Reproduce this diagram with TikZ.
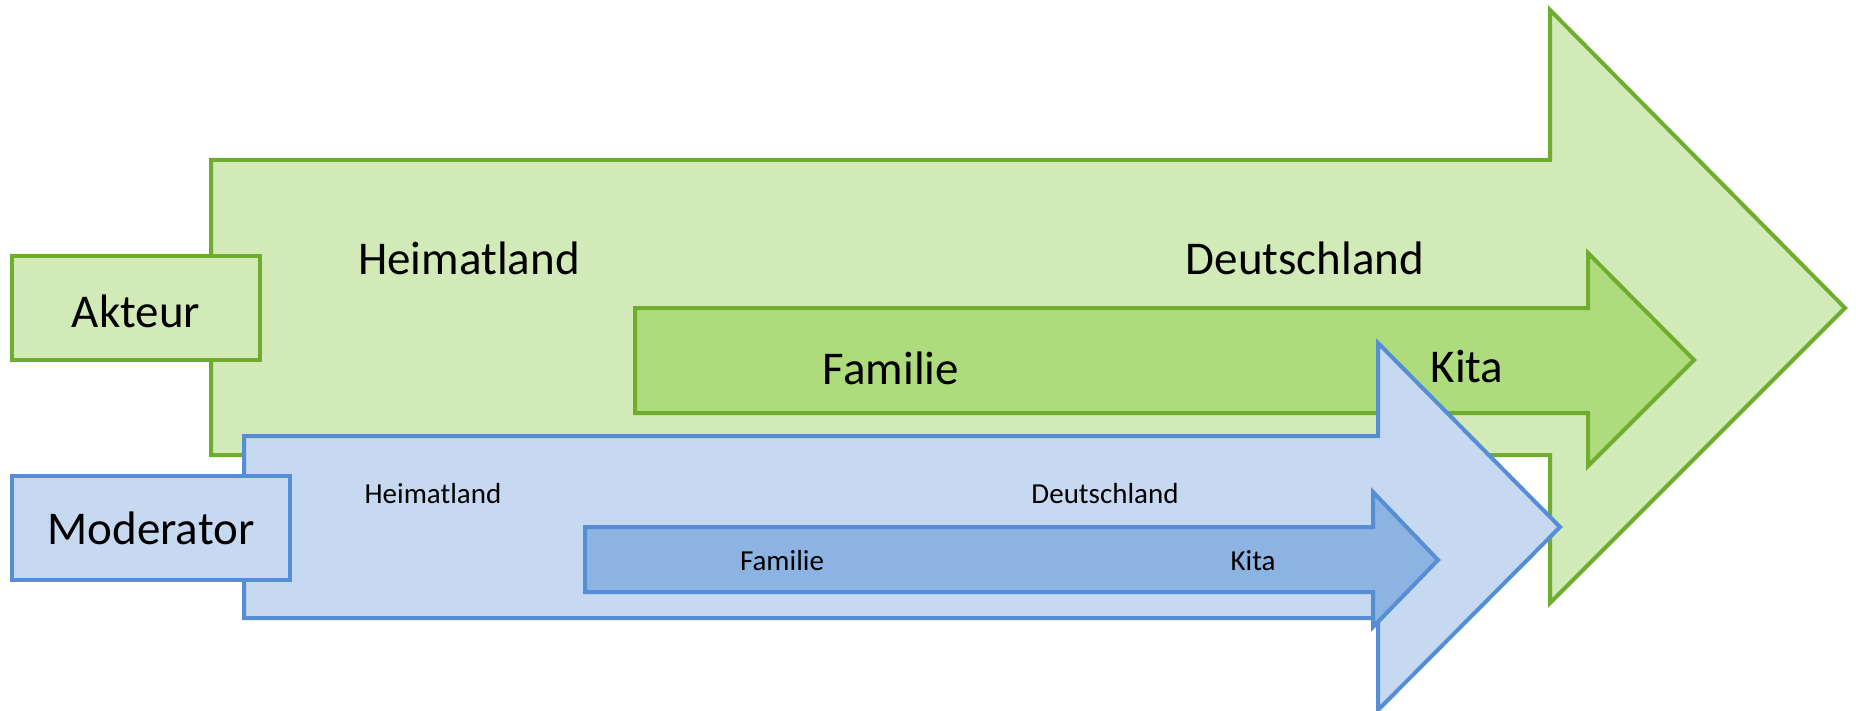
\documentclass[tikz,border=0pt]{standalone}
\usepackage{fontspec}
\setmainfont{Carlito}

\definecolor{paleleaf}{HTML}{D2EAB8}
\definecolor{leaf}{HTML}{AEDC7C}
\definecolor{leafline}{HTML}{6FAD2F}
\definecolor{palesky}{HTML}{C6D9F0}
\definecolor{sky}{HTML}{8DB3E2}
\definecolor{skyline}{HTML}{558ED5}

\tikzset{
  greenpale/.style={draw=leafline, line width=2pt, fill=paleleaf, line join=miter},
  greenfull/.style={draw=leafline, line width=2pt, fill=leaf, line join=miter},
  bluepale/.style={draw=skyline, line width=2pt, fill=palesky, line join=miter},
  bluefull/.style={draw=skyline, line width=2pt, fill=sky, line join=miter},
  bigtext/.style={font=\fontsize{23.5}{28}\selectfont, inner sep=0pt},
  smalltext/.style={font=\fontsize{14.5}{17}\selectfont, inner sep=0pt}
}

\begin{document}
\begin{tikzpicture}[x=0.5pt, y=-0.5pt]
  \useasboundingbox (0,0) rectangle (1856,711);

  % Akteur
  \draw[greenpale] (211,160) -- (1550,160) -- (1550,10) -- (1845,308) -- (1550,603) -- (1550,455) -- (211,455) -- cycle;
  \draw[greenpale] (12,256) rectangle (260,360);
  \node[bigtext] (akteur) at (136,311) {Akteur};
  \node[bigtext] (heimatA) at (469,258) {Heimatland};
  \node[bigtext] (deutschA) at (1305,258) {Deutschland};

  \draw[greenfull] (635,308) -- (1588,308) -- (1588,253) -- (1694,360) -- (1588,466) -- (1588,413) -- (635,413) -- cycle;
  \node[bigtext] (familieA) at (891,368) {Familie};
  \node[bigtext] (kitaA) at (1467,367) {Kita};

  % Moderator
  \draw[bluepale] (244,436) -- (1378,436) -- (1378,343) -- (1560,527) -- (1378,710) -- (1378,618) -- (244,618) -- cycle;
  \draw[bluepale] (12,476) rectangle (290,580);
  \node[bigtext] (moderator) at (151,528) {Moderator};
  \node[smalltext] (heimatM) at (433,494) {Heimatland};
  \node[smalltext] (deutschM) at (1105,494) {Deutschland};

  \draw[bluefull] (585,527) -- (1373,527) -- (1373,492) -- (1438,560) -- (1373,627) -- (1373,592) -- (585,592) -- cycle;
  \node[smalltext] (familieM) at (782,561) {Familie};
  \node[smalltext] (kitaM) at (1253,561) {Kita};
\end{tikzpicture}
\end{document}
